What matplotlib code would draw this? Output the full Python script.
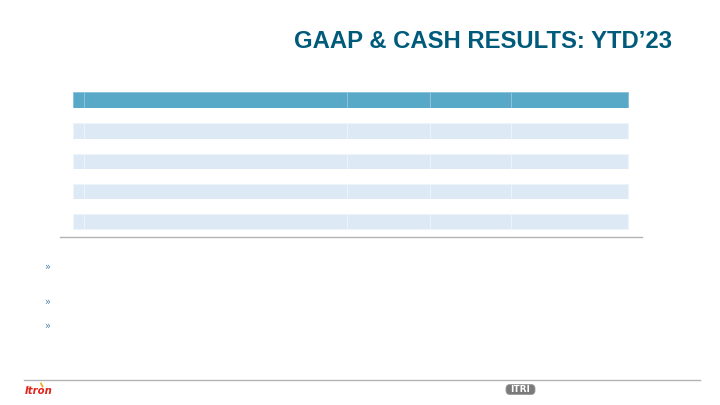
import matplotlib.pyplot as plt
from matplotlib.patches import Rectangle, FancyBboxPatch

# slide content (the table cells are empty in the source)
title = "GAAP & CASH RESULTS: YTD\u201923"
header = ["", "", "", "", ""]
body = [["", "", "", "", ""] for _ in range(8)]
bullets = ["", "", ""]

col_widths = [11, 263, 83, 80.7, 117]

fig = plt.figure(figsize=(7.2, 4.05), dpi=100)
ax = fig.add_axes([0, 0, 1, 1])
ax.set_xlim(0, 720)
ax.set_ylim(405, 0)
ax.axis("off")

# title
ax.text(672, 42, title, ha="right", va="center", fontsize=17.2,
        fontweight="bold", color="#005b7b", family="Liberation Sans")

# table
x0, y0 = 73.3, 92.2
head_h, row_h = 16, 15.15
x = x0
for j, w in enumerate(col_widths):
    ax.add_patch(Rectangle((x, y0), w, head_h, facecolor="#58a9c7",
                           edgecolor="#8ec4da", lw=0.7))
    ax.text(x + w / 2, y0 + head_h / 2, header[j], ha="center", va="center",
            color="white", fontsize=8)
    x += w

for i, row in enumerate(body):
    y = y0 + head_h + i * row_h
    fc = "#ffffff" if i % 2 == 0 else "#ddeaf5"
    ec = "#ffffff" if i % 2 == 0 else "#edf4fa"
    x = x0
    for j, w in enumerate(col_widths):
        ax.add_patch(Rectangle((x, y), w, row_h, facecolor=fc,
                               edgecolor=ec, lw=0.7))
        ax.text(x + w / 2, y + row_h / 2, row[j], ha="center", va="center",
                fontsize=8)
        x += w

ax.plot([60, 642], [237, 237], color="#b3b3b3", lw=1)

# bullets
for yb, txt in zip([267, 302, 326], bullets):
    ax.text(47, yb, "\u00bb", ha="center", va="center", fontsize=7,
            color="#4f86ad")
    ax.text(60, yb, txt, ha="left", va="center", fontsize=8)

# footer
ax.plot([24, 700], [379.5, 379.5], color="#b3b3b3", lw=1)
ax.text(25, 390.5, "Itron", ha="left", va="center", fontsize=7.3,
        fontweight="heavy", style="italic", color="#e2231a",
        family="DejaVu Sans")
ax.plot([41, 42.5], [383.5, 386.5], color="#f7a823", lw=1.3)
ax.add_patch(FancyBboxPatch((506, 384.5), 29, 10, boxstyle="round,pad=0,rounding_size=4",
                            facecolor="#7a7a7a", edgecolor="#9a9a9a", lw=0.6))
ax.text(520.5, 389.8, "ITRI", ha="center", va="center", fontsize=6.5,
        fontweight="bold", color="white", family="DejaVu Sans")

fig.savefig("out.png", dpi=100)
